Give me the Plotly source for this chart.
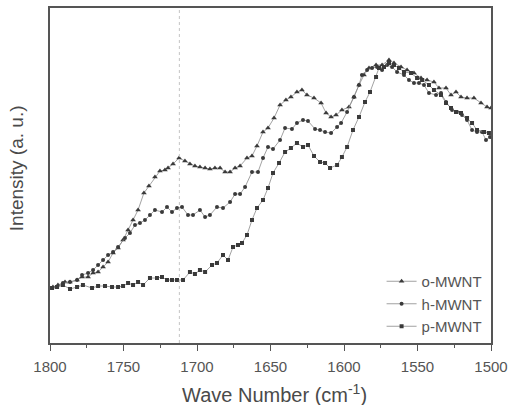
import plotly.graph_objects as go

# Wave numbers (cm^-1) and intensities (a.u.)
o_wn = [1798.0, 1794.6, 1789.8, 1786.4, 1781.6, 1778.2, 1774.1, 1770.7, 1767.3, 1763.9,
        1760.5, 1757.1, 1753.7, 1750.3, 1746.9, 1743.5, 1740.1, 1736.1, 1732.7, 1728.6,
        1725.2, 1721.8, 1719.7, 1716.3, 1712.2, 1708.2, 1704.8, 1701.4, 1698.0, 1694.5,
        1691.2, 1687.8, 1684.3, 1680.9, 1677.5, 1674.1, 1670.7, 1666.0, 1662.6, 1659.2,
        1655.1, 1651.7, 1647.6, 1643.5, 1639.5, 1636.1, 1632.0, 1628.6, 1625.2, 1620.4,
        1615.6, 1612.2, 1608.8, 1605.4, 1601.4, 1596.6, 1593.2, 1589.8, 1586.4, 1583.0,
        1578.2, 1574.1, 1569.4, 1566.0, 1561.2, 1557.1, 1552.4, 1547.6, 1543.5, 1538.8,
        1535.4, 1530.6, 1527.2, 1523.8, 1520.4, 1516.3, 1511.6, 1506.8, 1502.7, 1500.0]
o_int = [0.56, 0.58, 0.61, 0.61, 0.63, 0.66, 0.66, 0.70, 0.71, 0.76,
         0.81, 0.90, 0.95, 1.03, 1.13, 1.23, 1.33, 1.50, 1.57, 1.66,
         1.72, 1.73, 1.75, 1.79, 1.85, 1.82, 1.79, 1.77, 1.76, 1.75,
         1.74, 1.75, 1.75, 1.71, 1.71, 1.75, 1.77, 1.85, 1.87, 1.97,
         2.11, 2.15, 2.25, 2.38, 2.43, 2.46, 2.51, 2.53, 2.48, 2.45,
         2.40, 2.30, 2.26, 2.28, 2.33, 2.36, 2.46, 2.58, 2.68, 2.75,
         2.78, 2.78, 2.83, 2.80, 2.76, 2.73, 2.70, 2.65, 2.63, 2.61,
         2.55, 2.55, 2.48, 2.51, 2.46, 2.45, 2.45, 2.40, 2.36, 2.35]

h_wn = [1798.6, 1795.2, 1791.2, 1786.4, 1781.6, 1778.2, 1774.1, 1770.7, 1767.3, 1763.9,
        1760.5, 1757.1, 1753.7, 1749.0, 1745.6, 1742.2, 1738.8, 1735.4, 1732.0, 1728.6,
        1723.8, 1720.4, 1717.0, 1713.6, 1710.2, 1706.1, 1702.7, 1698.0, 1694.5, 1691.2,
        1686.4, 1682.3, 1677.5, 1674.1, 1670.7, 1667.3, 1662.6, 1658.5, 1655.1, 1651.7,
        1648.3, 1643.5, 1640.1, 1635.4, 1632.0, 1627.9, 1624.5, 1619.7, 1616.3, 1612.9,
        1608.8, 1604.7, 1602.0, 1597.9, 1593.2, 1589.8, 1587.8, 1584.3, 1580.9, 1577.5,
        1574.1, 1570.7, 1567.3, 1563.9, 1559.2, 1555.8, 1552.4, 1549.0, 1545.6, 1542.2,
        1537.4, 1534.0, 1530.6, 1526.5, 1523.1, 1519.7, 1516.3, 1512.9, 1509.5, 1506.1,
        1503.4, 1500.7]
h_int = [0.55, 0.56, 0.60, 0.61, 0.63, 0.68, 0.70, 0.73, 0.78, 0.83,
         0.88, 0.91, 0.96, 1.05, 1.10, 1.18, 1.20, 1.23, 1.28, 1.33,
         1.31, 1.36, 1.31, 1.35, 1.36, 1.28, 1.28, 1.33, 1.26, 1.28,
         1.36, 1.35, 1.41, 1.49, 1.49, 1.56, 1.71, 1.71, 1.85, 1.96,
         1.94, 2.03, 2.15, 2.14, 2.20, 2.23, 2.22, 2.14, 2.13, 2.11,
         2.10, 2.16, 2.20, 2.31, 2.46, 2.58, 2.68, 2.73, 2.75, 2.76,
         2.73, 2.78, 2.76, 2.71, 2.68, 2.63, 2.60, 2.60, 2.58, 2.50,
         2.48, 2.50, 2.41, 2.33, 2.31, 2.28, 2.23, 2.13, 2.11, 2.11,
         2.03, 2.06]

p_wn = [1798.6, 1795.2, 1791.2, 1786.4, 1781.6, 1777.6, 1771.4, 1767.3, 1762.6, 1757.8,
        1753.7, 1750.3, 1746.9, 1743.5, 1740.1, 1736.7, 1732.0, 1727.2, 1723.8, 1720.4,
        1717.0, 1713.6, 1709.5, 1704.8, 1701.4, 1698.0, 1694.5, 1689.8, 1686.4, 1682.3,
        1678.9, 1675.5, 1672.1, 1669.4, 1666.0, 1662.6, 1659.2, 1655.1, 1651.7, 1648.3,
        1644.2, 1640.1, 1636.1, 1632.0, 1627.9, 1624.5, 1620.4, 1616.3, 1612.9, 1609.5,
        1604.7, 1601.4, 1597.9, 1593.9, 1589.8, 1585.7, 1582.3, 1578.2, 1576.2, 1572.8,
        1569.4, 1566.0, 1562.6, 1559.2, 1554.4, 1550.3, 1546.9, 1542.2, 1538.8, 1534.0,
        1530.6, 1527.2, 1523.8, 1520.4, 1516.3, 1512.9, 1509.5, 1504.7, 1501.4]
p_int = [0.55, 0.56, 0.58, 0.54, 0.56, 0.58, 0.55, 0.57, 0.57, 0.56,
         0.56, 0.57, 0.60, 0.58, 0.61, 0.58, 0.65, 0.65, 0.66, 0.63,
         0.63, 0.63, 0.63, 0.71, 0.69, 0.73, 0.71, 0.78, 0.80, 0.88,
         0.83, 0.96, 0.98, 1.00, 1.08, 1.23, 1.35, 1.43, 1.55, 1.70,
         1.80, 1.91, 1.95, 2.00, 1.96, 1.98, 1.87, 1.81, 1.80, 1.75,
         1.78, 1.86, 1.96, 2.13, 2.26, 2.41, 2.51, 2.66, 2.75, 2.76,
         2.80, 2.78, 2.75, 2.71, 2.70, 2.65, 2.63, 2.58, 2.53, 2.48,
         2.40, 2.35, 2.31, 2.30, 2.25, 2.20, 2.13, 2.11, 2.10]

series_names = ["o-MWNT", "h-MWNT", "p-MWNT"]
marker_symbols = ["triangle-up", "circle", "square"]
marker_sizes = [5, 4, 4]

ref_line_wn = 1712
x_tick_vals = [1800, 1750, 1700, 1650, 1600, 1550, 1500]
x_title = "Wave Number (cm<sup>-1</sup>)"
y_title = "Intensity (a. u.)"

FONT = "Liberation Sans, Arial, sans-serif"
TXT = "#4a4a4a"

fig = go.Figure()
for name, wn, inten, sym, sz in zip(series_names, [o_wn, h_wn, p_wn], [o_int, h_int, p_int],
                                     marker_symbols, marker_sizes):
    fig.add_trace(go.Scatter(
        x=wn, y=inten, name=name, mode="lines+markers",
        line=dict(color="#8a8a8a", width=0.8),
        marker=dict(symbol=sym, size=sz, color="#3a3a3a"),
    ))

fig.add_vline(x=ref_line_wn, line=dict(color="#c4c4c4", width=1, dash="dot"))

fig.add_annotation(text=x_title, xref="paper", yref="paper", x=0.51, y=-0.152,
                   xanchor="center", yanchor="middle", showarrow=False,
                   font=dict(size=20, color=TXT, family=FONT))
fig.add_annotation(text=y_title, xref="paper", yref="paper", x=-0.077, y=0.522,
                   xanchor="center", yanchor="middle", textangle=-90, showarrow=False,
                   font=dict(size=19, color=TXT, family=FONT))

fig.update_layout(
    width=508, height=405,
    margin=dict(l=50, r=17, t=8, b=62),
    paper_bgcolor="white", plot_bgcolor="white",
    font=dict(family=FONT, color=TXT, size=12),
    showlegend=True,
    legend=dict(x=0.99, y=0.0, xanchor="right", yanchor="bottom",
                bgcolor="rgba(0,0,0,0)", font=dict(size=15, color="#555"),
                itemwidth=30, tracegroupgap=0),
)
fig.update_xaxes(
    range=[1800, 1500], tickvals=x_tick_vals, automargin=False,
    showline=True, linecolor="#555", linewidth=1.5, mirror=True,
    ticks="outside", ticklen=6, tickwidth=1.2, tickcolor="#555",
    minor=dict(dtick=25, ticks="outside", ticklen=3, tickcolor="#555", showgrid=False),
    showgrid=False, zeroline=False,
    tickfont=dict(size=15, color="#555"), ticklabelstandoff=3,
)
fig.update_yaxes(
    range=[0, 3.35], showticklabels=False, ticks="", automargin=False,
    showline=True, linecolor="#555", linewidth=1.5, mirror=True,
    showgrid=False, zeroline=False,
)

fig.write_html("out.html")
